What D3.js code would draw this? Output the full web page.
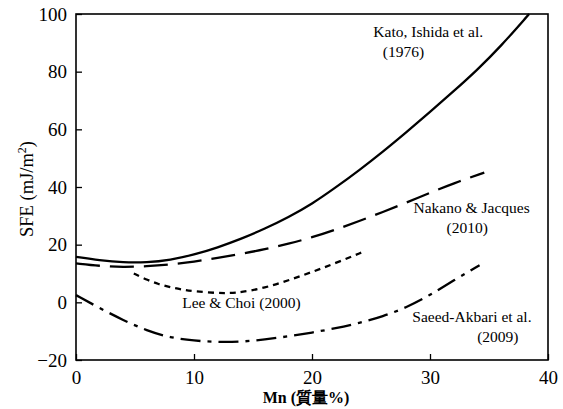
<!DOCTYPE html>
<html>
<head>
<meta charset="utf-8">
<script src="https://cdn.jsdelivr.net/npm/d3@7"></script>
<style>
  body { margin: 0; background: #fff; }
  text { font-family: "Liberation Serif", "Times New Roman", serif; }
</style>
</head>
<body>
<script>
// values (Mn mass %, SFE mJ/m2)
var katoX = [0, 2, 4, 6, 8, 10, 12, 14, 16, 18, 20, 22, 24, 26, 28, 30, 32, 34, 36, 38.4];
var katoY = [15.8, 14.6, 13.8, 13.8, 14.7, 16.5, 19.0, 22.0, 25.5, 29.5, 34.1, 39.8, 45.8, 52.2, 59.0, 66.0, 73.2, 80.6, 88.8, 100];

var nakanoX = [0, 2, 4, 6, 8, 10, 12, 14, 16, 18, 20, 22, 24, 26, 28, 30, 32, 34.6];
var nakanoY = [13.5, 12.6, 12.2, 12.5, 13.1, 14.1, 15.4, 16.8, 18.4, 20.3, 22.5, 25.2, 28.2, 31.3, 34.6, 38.0, 41.3, 45.0];

var leeX = [4.9, 6, 7, 8, 9, 10, 12, 13, 14, 16, 18, 20, 22, 24.4];
var leeY = [10.0, 7.8, 6.3, 5.2, 4.4, 3.8, 3.2, 3.2, 3.5, 5.0, 7.6, 10.5, 13.6, 17.6];

var saeedX = [0, 2, 4, 6, 8, 10, 12, 14, 16, 18, 20, 22, 24, 26, 28, 30, 32, 34.2];
var saeedY = [2.5, -2.0, -6.2, -9.8, -12.3, -13.3, -13.8, -13.7, -12.9, -11.8, -10.5, -9.0, -7.2, -4.9, -1.8, 2.5, 7.6, 12.9];

var xTicks = [0, 10, 20, 30, 40];
var yTicks = [-20, 0, 20, 40, 60, 80, 100];

var labelText = ["Kato, Ishida et al.", "(1976)", "Nakano & Jacques", "(2010)",
                 "Lee & Choi (2000)", "Saeed-Akbari et al.", "(2009)"];
var labelX = [25.2, 26.0, 28.6, 31.4, 9.0, 28.5, 34.0];
var labelY = [92.0, 85.1, 31.0, 24.0, -2.0, -6.8, -13.8];

var width = 563, height = 409;
var margin = {top: 14, right: 15, bottom: 49, left: 76};
var w = width - margin.left - margin.right,
    h = height - margin.top - margin.bottom;

var svg = d3.select("body").append("svg")
    .attr("width", width)
    .attr("height", height);

var g = svg.append("g")
    .attr("transform", "translate(" + margin.left + "," + margin.top + ")");

var x = d3.scaleLinear().domain([0, 40]).range([0, w]);
var y = d3.scaleLinear().domain([-20, 100]).range([h, 0]);

// axes, ticks pointing inward
var xAxis = d3.axisBottom(x).tickValues(xTicks).tickSize(-6).tickPadding(11).tickFormat(d3.format("d"));
var yAxis = d3.axisLeft(y).tickValues(yTicks).tickSize(-6).tickPadding(9).tickFormat(d3.format("d"));

g.append("g").attr("transform", "translate(0," + h + ")").call(xAxis);
g.append("g").call(yAxis);

g.selectAll(".tick line").attr("stroke", "#000").attr("stroke-width", 1.3);
g.selectAll(".tick text").attr("font-size", 19).attr("fill", "#000")
    .attr("font-family", "Liberation Serif, serif");
g.selectAll(".domain").remove();

// frame
g.append("rect")
    .attr("width", w).attr("height", h)
    .attr("fill", "none").attr("stroke", "#000").attr("stroke-width", 1.6);

var line = d3.line()
    .x(function (d) { return x(d[0]); })
    .y(function (d) { return y(d[1]); })
    .curve(d3.curveBasis);

function pairs(xs, ys) {
  return xs.map(function (v, i) { return [v, ys[i]]; });
}

var series = [
  {data: pairs(katoX, katoY), dash: null},
  {data: pairs(nakanoX, nakanoY), dash: "24,10"},
  {data: pairs(leeX, leeY), dash: "6,5"},
  {data: pairs(saeedX, saeedY), dash: "20,7,4,7"}
];

g.selectAll(".curve").data(series).enter().append("path")
    .attr("class", "curve")
    .attr("fill", "none")
    .attr("stroke", "#000")
    .attr("stroke-width", 2.3)
    .attr("stroke-dasharray", function (d) { return d.dash; })
    .attr("d", function (d) { return line(d.data); });

// curve labels
g.selectAll(".lab").data(labelText).enter().append("text")
    .attr("class", "lab")
    .attr("x", function (d, i) { return x(labelX[i]); })
    .attr("y", function (d, i) { return y(labelY[i]); })
    .attr("font-size", 15.5)
    .attr("font-family", "Liberation Serif, serif")
    .text(function (d) { return d; });

// axis titles
var yt = svg.append("text")
    .attr("transform", "translate(33," + 189 + ") rotate(-90)")
    .attr("text-anchor", "middle")
    .attr("font-family", "Liberation Serif, serif")
    .attr("font-size", 18.5);
yt.append("tspan").text("SFE (mJ/m");
yt.append("tspan").attr("dy", -7).attr("font-size", 12).text("2");
yt.append("tspan").attr("dy", 7).text(")");

svg.append("text")
    .attr("x", 306).attr("y", 403)
    .attr("text-anchor", "middle")
    .attr("font-family", "Liberation Serif, serif")
    .attr("font-size", 16)
    .attr("font-weight", "bold")
    .text("Mn (質量%)");
</script>
</body>
</html>
